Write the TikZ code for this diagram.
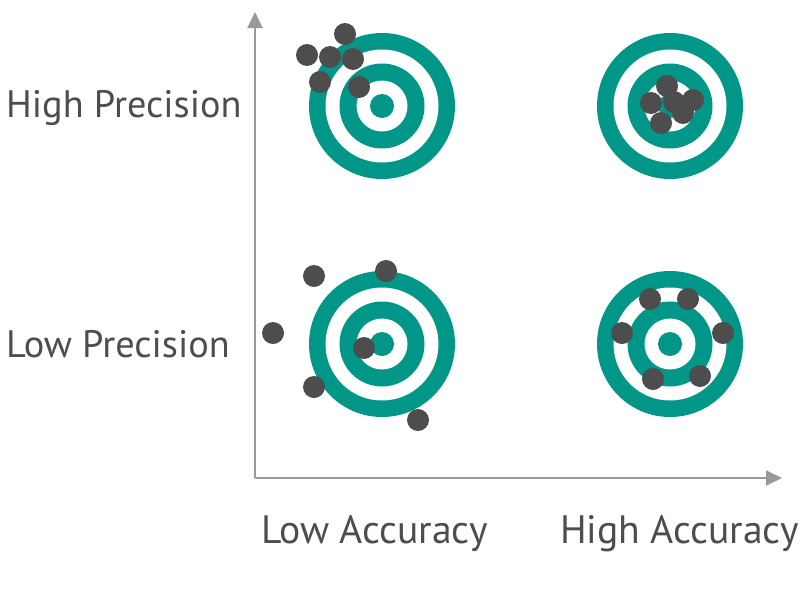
\documentclass[tikz,border=0pt]{standalone}
\usepackage{fontspec}
\setmainfont{PT Sans}
\usetikzlibrary{arrows.meta}
\definecolor{ringc}{RGB}{0,150,136}
\definecolor{dotc}{RGB}{77,77,77}
\definecolor{axisc}{RGB}{153,153,153}
\definecolor{txtc}{RGB}{77,77,77}
\tikzset{
  axisline/.style={draw=axisc, line width=2pt, -{Triangle[length=16pt,width=15pt]}},
  shot/.style={fill=dotc},
  lbl/.style={text=txtc, inner sep=0pt, font=\fontsize{38.3}{42}\selectfont},
  xlbl/.style={lbl, font=\fontsize{39.6}{44}\selectfont},
  tgt/.pic={
    \fill[ringc] (0,0) circle[radius=73pt];
    \fill[white] (0,0) circle[radius=56.5pt];
    \fill[ringc] (0,0) circle[radius=42.5pt];
    \fill[white] (0,0) circle[radius=25.5pt];
    \fill[ringc] (0,0) circle[radius=12pt];
  }
}
\begin{document}
\begin{tikzpicture}[x=1pt,y=-1pt]
\useasboundingbox[fill=white] (0,0) rectangle (800,600);
% axes
\coordinate (origin) at (255,478);
\coordinate (ytip) at (255,12);
\coordinate (xtip) at (782,478);
\draw[axisline] (origin) -- (ytip);
\draw[axisline] (origin) -- (xtip);
% targets
\pic (hl) at (382,106) {tgt};
\pic (hh) at (670,106) {tgt};
\pic (ll) at (382,344) {tgt};
\pic (lh) at (670,344) {tgt};
% shots: high precision, low accuracy
\foreach \p in {(345,34),(307,55),(330,57),(353,59),(320,82),(359,87)}
  \fill[shot] \p circle[radius=11pt];
% shots: high precision, high accuracy
\foreach \p in {(667,86),(651,103),(674,102),(693,100),(683,113),(661,123)}
  \fill[shot] \p circle[radius=11pt];
% shots: low precision, low accuracy
\foreach \p in {(314,276),(386,271),(273,333),(364,348),(314,387),(418,420)}
  \fill[shot] \p circle[radius=11pt];
% shots: low precision, high accuracy
\foreach \p in {(650,299),(688,299),(622,333),(723,333),(653,379),(700,376)}
  \fill[shot] \p circle[radius=11pt];
% labels
\node[lbl, anchor=base west] (hp) at (6,117.5) {High Precision};
\node[lbl, anchor=base west] (lp) at (6,357) {Low Precision};
\node[xlbl, anchor=base west] (la) at (261,543.5) {Low Accuracy};
\node[xlbl, anchor=base west] (ha) at (560,543.5) {High Accuracy};
\end{tikzpicture}
\end{document}
